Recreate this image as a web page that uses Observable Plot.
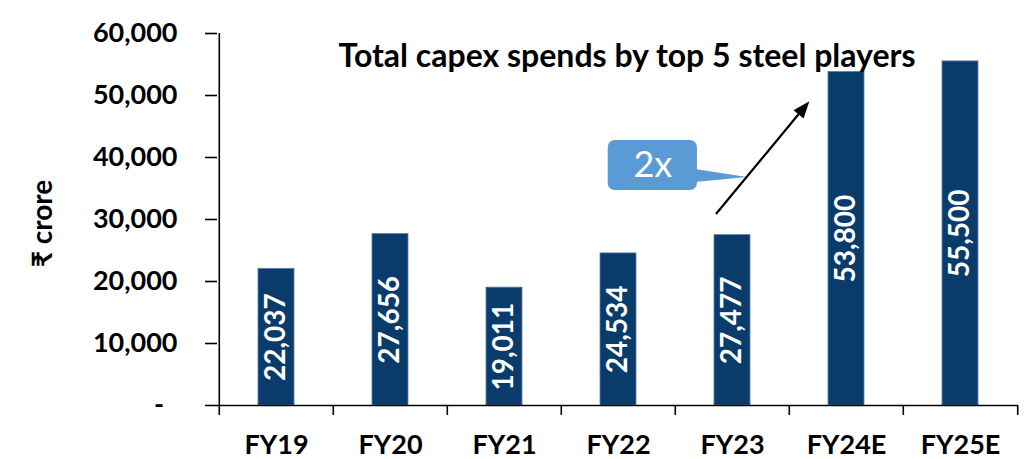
<!DOCTYPE html>
<html><head><meta charset="utf-8">
<script src="https://cdn.jsdelivr.net/npm/d3@7"></script>
<script src="https://cdn.jsdelivr.net/npm/@observablehq/plot@0.6"></script>
<style>
html,body{margin:0;padding:0;background:#fff;}
#chart svg{display:block;}
</style></head><body><div id="chart"></div>
<script>
const categories = ["FY19","FY20","FY21","FY22","FY23","FY24E","FY25E"];
const capex = [22037,27656,19011,24534,27477,53800,55500];
const yTicks = [0,10000,20000,30000,40000,50000,60000];
const titleText = "Total capex spends by top 5 steel players";
const yLabel = "₹ crore";
const calloutText = "2x";
// annotation anchors in data units (category + fraction of a category step, value)
const arrowFrom = {cat:"FY23", off:-0.14, value:30800};
const arrowTo = {cat:"FY24E", off:-0.32, value:49000};
const callout = {cat:"FY22", off:0.30, value:38700, w:0.78, h:8060, tipCat:"FY23", tipOff:0.13, tipValue:36770};

const data = categories.map((c,i)=>({cat:c, value:capex[i]}));
const W=1025,H=459, mL=217, mR=7, mT=33, mB=54;
const step=(W-mL-mR)/categories.length;
const font = "Lato, 'Open Sans', 'DejaVu Sans', sans-serif";

function annotation(index, scales){
  const x = scales.x, y = scales.y;
  const bw = x.bandwidth ? x.bandwidth() : 0;
  const px = (cat, off) => x(cat) + bw/2 + off*step;
  const g = d3.create("svg:g");
  // callout box
  const cx = px(callout.cat, callout.off), cy = y(callout.value);
  const bwid = callout.w*step, bh = Math.abs(y(0)-y(callout.h));
  const right = cx + bwid/2;
  g.append("path")
    .attr("d", `M${right-2},${cy+bh*0.08}L${px(callout.tipCat, callout.tipOff)},${y(callout.tipValue)}L${right-2},${cy+bh*0.34}Z`)
    .attr("fill","#5B9BD5");
  g.append("rect").attr("x",cx-bwid/2).attr("y",cy-bh/2).attr("width",bwid).attr("height",bh)
    .attr("rx",7).attr("fill","#5B9BD5");
  // arrow
  const x1 = px(arrowFrom.cat, arrowFrom.off), y1 = y(arrowFrom.value);
  const x2 = px(arrowTo.cat, arrowTo.off), y2 = y(arrowTo.value);
  const ang = Math.atan2(y2-y1, x2-x1);
  const hl = 17, hw = 6.5;
  const bx = x2 - hl*Math.cos(ang), by = y2 - hl*Math.sin(ang);
  g.append("line").attr("x1",x1).attr("y1",y1).attr("x2",bx).attr("y2",by)
    .attr("stroke","#000").attr("stroke-width",2.2);
  const nx = -Math.sin(ang), ny = Math.cos(ang);
  g.append("path").attr("d",`M${x2},${y2}L${bx+nx*hw},${by+ny*hw}L${bx-nx*hw},${by-ny*hw}Z`).attr("fill","#000");
  return g.node();
}

const plot = Plot.plot({
  width: W, height: H,
  marginLeft: mL, marginRight: mR, marginTop: mT, marginBottom: mB,
  style: {fontFamily: font, background: "white", color: "#000"},
  x: {domain: categories, paddingInner: 0.685, paddingOuter: 0.3425, label: null},
  y: {domain: [0, 60000], label: null},
  marks: [
    Plot.barY(data, {x: "cat", y: "value", fill: "#0A3C6B", stroke: "#5A80A8", strokeWidth: 0.8}),
    Plot.text(data, {x: "cat", y: d => d.value/2, text: d => d3.format(",")(d.value), rotate: -90,
      fill: "white", fontSize: 28, fontWeight: "bold", textAnchor: "middle", lineAnchor: "middle"}),
    Plot.ruleY([0], {stroke: "#000", strokeWidth: 1.6}),
    Plot.ruleX([categories[0]], {dx: -step/2, y1: 60000, y2: 0, insetBottom: -10, stroke: "#000", strokeWidth: 1.6}),
    Plot.ruleX(categories.slice(1), {dx: -step/2, y1: 0, y2: 0, insetBottom: -10, stroke: "#000", strokeWidth: 1.6}),
    Plot.ruleX([categories[categories.length-1]], {dx: step/2, y1: 0, y2: 0, insetBottom: -10, stroke: "#000", strokeWidth: 1.6}),
    Plot.axisY({ticks: yTicks, tickSize: 12, tickPadding: 28, strokeWidth: 1.6,
      tickFormat: d => d === 0 ? "-\u2002" : d3.format(",")(d), fontSize: 27, fontWeight: "bold", label: null}),
    Plot.axisX({tickSize: 0, tickPadding: 29, fontSize: 27, fontWeight: "bold", label: null}),
    Plot.text([titleText], {frameAnchor: "top", dx: 9, dy: 23, lineAnchor: "middle", fontSize: 32, fontWeight: "bold"}),
    Plot.text([yLabel], {frameAnchor: "left", dx: -174, dy: 4, rotate: -90, textAnchor: "middle", lineAnchor: "middle", fontSize: 28, fontWeight: "bold"}),
    annotation,
    Plot.text([calloutText], {x: () => callout.cat, y: () => callout.value, dx: callout.off*step, fill: "white", fontSize: 36, lineAnchor: "middle"})
  ]
});
document.getElementById("chart").appendChild(plot);
</script></body></html>
